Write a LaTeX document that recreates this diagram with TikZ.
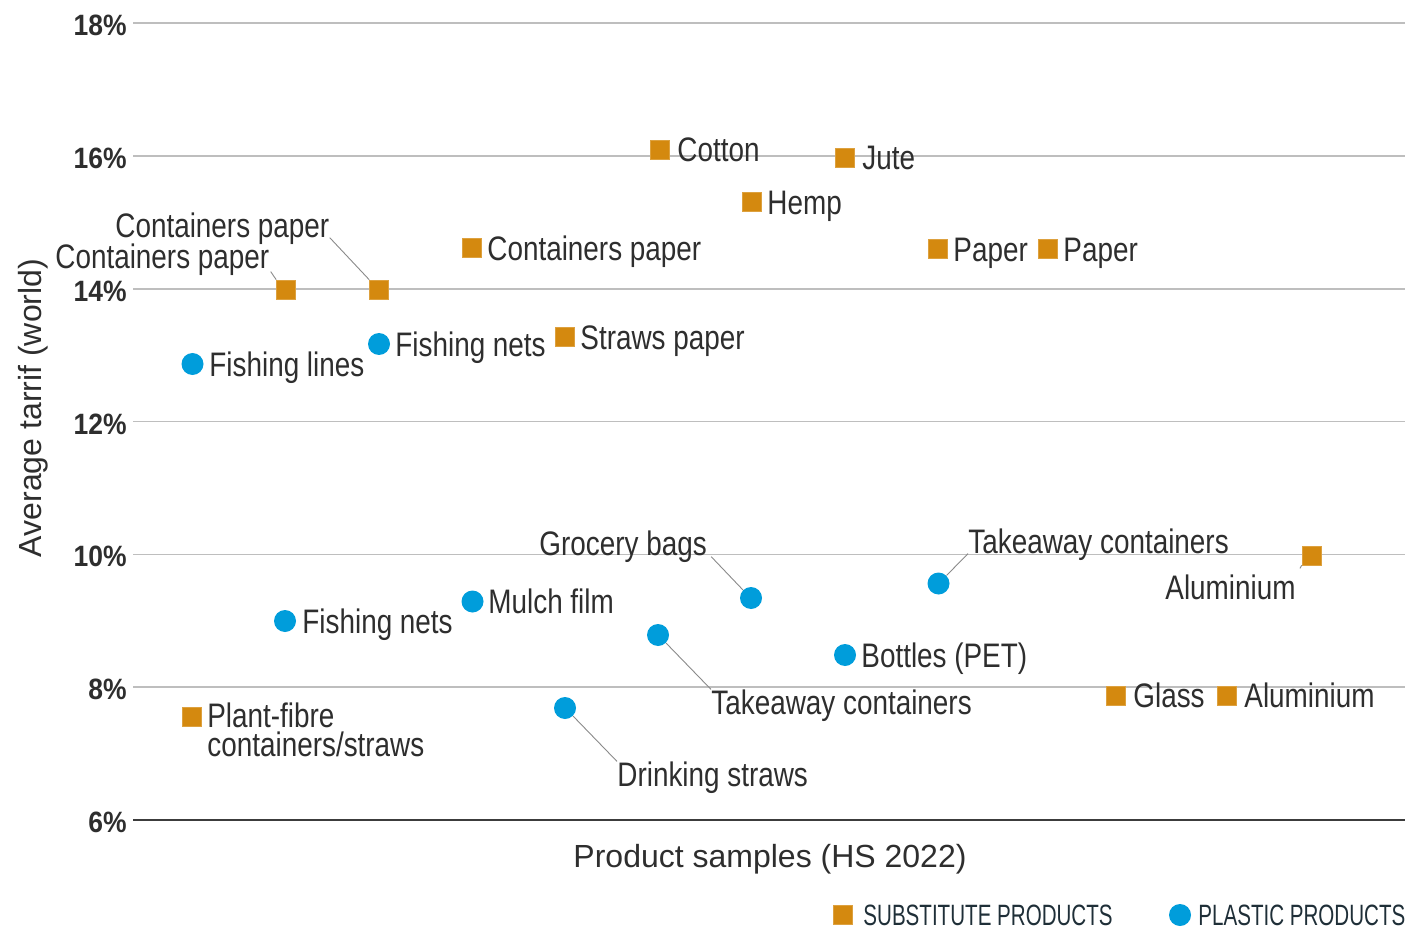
\documentclass[tikz,border=0pt]{standalone}
\usepackage{fontspec}
\setmainfont{Liberation Sans}
\newfontfamily\lblfont{Liberation Sans}[FakeStretch=0.82]
\newfontfamily\tickfont{Liberation Sans}[FakeStretch=0.9]
\newfontfamily\legfont{Liberation Sans}[FakeStretch=0.7]
\definecolor{subc}{HTML}{D4890F}
\definecolor{plac}{HTML}{009DDB}
\definecolor{txtc}{HTML}{2E2E2E}
\definecolor{gridc}{HTML}{BEBEBE}
\definecolor{axisc}{HTML}{3C3C3C}
\definecolor{leadc}{HTML}{8A8A8A}
\definecolor{legc}{HTML}{1F2F38}
\tikzset{
  sq/.style={rectangle, fill=subc, draw=subc!80!white, line width=0.3pt, minimum size=9.5pt, inner sep=0pt},
  dot/.style={circle, fill=plac, minimum size=11pt, inner sep=0pt},
  lbl/.style={font=\lblfont\fontsize{17}{20}\selectfont, text=txtc, inner sep=0pt, text height=12.2pt, text depth=0pt, anchor=west},
  lbltwo/.style={font=\lblfont\fontsize{17}{14.5}\selectfont, text=txtc, inner sep=0pt, align=left, anchor=north west},
  tick/.style={font=\tickfont\bfseries\fontsize{14.7}{17}\selectfont, text=txtc, inner sep=0pt, text height=10.5pt, text depth=0pt, anchor=east},
  axlbl/.style={font=\fontsize{16}{19}\selectfont, text=txtc, inner sep=0pt, text height=11.5pt, text depth=0pt},
  leg/.style={font=\legfont\fontsize{14.7}{17}\selectfont, text=legc, inner sep=0pt, text height=10.5pt, text depth=0pt, anchor=west},
  lead/.style={draw=leadc, line width=0.45pt},
  gridln/.style={draw=gridc, line width=0.75pt}
}
\begin{document}
\begin{tikzpicture}[x=0.5pt,y=-0.5pt]
\useasboundingbox (0,0) rectangle (1412,930);
% grid
\foreach \yy in {23.2,156,288.8,421.6,554.4,687.2}
  \draw[gridln] (133,\yy) -- (1405,\yy);
\draw[axisc, line width=1pt] (133,820) -- (1405,820);
% tick labels
\foreach \v/\yy in {18/23.2,16/156,14/288.8,12/421.6,10/554.4,8/687.2,6/820}
  \node[tick] (t\v) at (127,\yy+2) {\v\%};
% axis titles
\node[axlbl] (xt) at (770,856) {Product samples (HS 2022)};
\node[axlbl, rotate=90] (yt) at (30,408) {Average tarrif (world)};

% substitute products (squares)
\node[sq] (s1) at (660,149.5) {};  \node[lbl] (l1) at (677,149.5) {Cotton};
\node[sq] (s2) at (845,157.5) {};  \node[lbl] (l2) at (862,157.5) {Jute};
\node[sq] (s3) at (752,202) {};    \node[lbl] (l3) at (767,202) {Hemp};
\node[sq] (s4) at (472,248) {};    \node[lbl] (l4) at (487,248) {Containers paper};
\node[sq] (s5) at (938,249) {};    \node[lbl] (l5) at (953,249) {Paper};
\node[sq] (s6) at (1048,249) {};   \node[lbl] (l6) at (1063,249) {Paper};
\node[sq] (s7) at (565,337) {};    \node[lbl] (l7) at (580,337) {Straws paper};
\node[sq] (s8) at (286,289.5) {};  \node[lbl] (l8) at (55,256) {Containers paper};
\node[sq] (s9) at (379,289.5) {};  \node[lbl] (l9) at (115,225) {Containers paper};
\node[sq] (s10) at (1311.5,555.5) {}; \node[lbl] (l10) at (1165,587) {Aluminium};
\node[sq] (s11) at (1116,695.5) {};  \node[lbl] (l11) at (1133,695.5) {Glass};
\node[sq] (s12) at (1227,695.5) {};  \node[lbl] (l12) at (1244,695.5) {Aluminium};
\node[sq] (s13) at (192,716.5) {};   \node[lbltwo] (l13) at (207,702) {Plant-fibre\\containers/straws};

% plastic products (circles)
\node[dot] (c1) at (192.5,364) {};  \node[lbl] (m1) at (209,364) {Fishing lines};
\node[dot] (c2) at (379,344) {};    \node[lbl] (m2) at (395,344) {Fishing nets};
\node[dot] (c3) at (285,621) {};    \node[lbl] (m3) at (302,621) {Fishing nets};
\node[dot] (c4) at (472.5,601.5) {};\node[lbl] (m4) at (488,601.5) {Mulch film};
\node[dot] (c5) at (751,598) {};    \node[lbl] (m5) at (539,543) {Grocery bags};
\node[dot] (c6) at (938.5,583.5) {};\node[lbl] (m6) at (968,541) {Takeaway containers};
\node[dot] (c7) at (658,635) {};    \node[lbl] (m7) at (711,702) {Takeaway containers};
\node[dot] (c8) at (845,655) {};    \node[lbl] (m8) at (861,655) {Bottles (PET)};
\node[dot] (c9) at (565,708) {};    \node[lbl] (m9) at (617,774) {Drinking straws};

% leader lines
\draw[lead] (l9.south east) -- (s9.north west);
\draw[lead] ([shift={(1,3)}]l8.south east) -- (s8.north west);
\draw[lead] ([shift={(4,1)}]m5.south east) -- (c5.north west);
\draw[lead] (m6.south west) -- (c6.north east);
\draw[lead] (c7.south east) -- (m7.north west);
\draw[lead] (c9.south east) -- (m9.north west);
\draw[lead] ([shift={(4,-6)}]l10.north east) -- (s10.south west);

% legend
\node[sq] (ks) at (843,915) {};   \node[leg] (kl1) at (863,915) {SUBSTITUTE PRODUCTS};
\node[dot] (kc) at (1180,915) {}; \node[leg] (kl2) at (1198,915) {PLASTIC PRODUCTS};
\end{tikzpicture}
\end{document}
